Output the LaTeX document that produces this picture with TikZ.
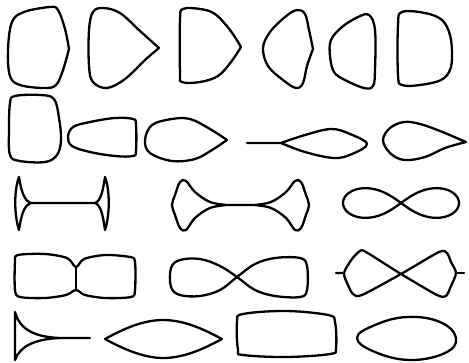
\documentclass[tikz,border=0pt]{standalone}
\begin{document}
\begin{tikzpicture}[x=1pt,y=-1pt,line width=2.3pt,line join=round,line cap=round,
    loop/.style={smooth,tension=0.6}]
    \useasboundingbox (0,0) rectangle (469,362);
    % first row
    \draw plot[loop] coordinates {(69,49) (65,29) (58,10) (50,7) (24,12) (12,22) (8,50) (10,76) (20,85) (44,88) (56,85) (63,70) (69,49)};
    \draw plot[loop] coordinates {(159,48) (140,31) (120,13) (103,8) (93,12) (89,30) (89,66) (93,82) (107,88) (125,79) (145,60) (159,48)};
    \draw plot[loop] coordinates {(241,47) (230,30) (215,14) (200,9) (183,9) (180,20) (180,72) (182,82) (200,82) (218,76) (231,62) (241,47)};
    \draw plot[loop] coordinates {(313,49) (309,30) (305,14) (297,10) (285,17) (270,32) (263,48) (268,66) (283,80) (296,88) (303,83) (307,66) (313,49)};
    \draw plot[smooth cycle,tension=0.6] coordinates {(369,15) (375,30) (375,70) (373,86) (364,88) (345,80) (334,72) (330,56) (331,40) (342,27) (358,17)};
    \draw plot[smooth cycle,tension=0.6] coordinates {(402,12) (425,13) (442,20) (450,35) (452,55) (450,70) (441,80) (420,85) (402,85) (398,75) (398,25)};
    % second row
    \draw plot[smooth cycle,tension=0.6] coordinates {(15,96) (40,95) (54,99) (59,118) (61,140) (57,155) (45,162) (20,161) (10,155) (9,130) (10,103)};
    \draw plot[smooth cycle,tension=0.6] coordinates {(68,137) (73,127) (90,122) (115,118) (133,119) (136,125) (136,150) (133,156) (115,156) (90,152) (72,146)};
    \draw plot[loop] coordinates {(227,140) (210,129) (190,119) (172,119) (152,125) (145,140) (150,153) (172,161) (195,159) (212,150) (227,140)};
    \draw (247,143) -- (281,143) plot[loop] coordinates {(281,143) (305,135) (331,129) (350,134) (367,144) (352,154) (334,158) (305,152) (281,143)};
    \draw plot[loop] coordinates {(466,142) (440,131) (420,124) (404,122) (390,128) (383,140) (390,153) (404,160) (425,157) (445,148) (466,142)};
    % third row
    \draw (31,203) .. controls (24,201) and (21,190) .. (19,177) .. controls (14,190) and (14,215) .. (19,230)
        .. controls (21,216) and (24,205) .. (31,203) -- (95,203) .. controls (101,201) and (103,190) .. (105,177)
        .. controls (110,190) and (110,215) .. (105,230) .. controls (103,216) and (101,205) .. (95,203);
    \draw plot[loop] coordinates {(227,205) (210,202) (195,192) (186,181) (180,182) (175,195) (172,205) (175,215) (180,228) (186,230) (195,218) (210,208) (227,205)}
        -- (254,205)
        plot[loop] coordinates {(254,205) (271,202) (286,192) (295,181) (301,182) (306,195) (309,205) (306,215) (301,228) (295,230) (286,218) (271,208) (254,205)};
    \draw plot[domain=0:360,samples=120,smooth] ({401+58*cos(\x)/(1+sin(\x)^2)},{203+42*sin(\x)*cos(\x)/(1+sin(\x)^2)});
    % fourth row
    \draw plot[smooth cycle,tension=0.5] coordinates {(76,267) (67,258) (45,254) (18,255) (15,262) (15,290) (20,297) (45,298) (66,295) (76,290) (85,295) (105,298) (131,297) (135,290) (135,262) (130,257) (105,255) (84,259)};
    \draw (76,267) -- (76,290);
    \draw plot[smooth cycle,tension=0.6] coordinates {(237,277) (220,266) (200,259) (180,260) (171,268) (171,287) (180,295) (200,296) (220,290) (237,277) (255,264) (275,258) (300,258) (307,266) (307,290) (300,297) (275,296) (255,290)};
    \draw (336,273) -- (344,273) plot[smooth cycle,tension=0.45] coordinates {(344,273) (352,259) (360,251) (366,252) (401,274) (437,295) (446,296) (451,286) (456,273) (451,262) (447,253) (439,252) (401,274) (362,295) (353,294) (348,285)};
    \draw (456,273) -- (464,273);
    % fifth row
    \draw (60,338) .. controls (35,337) and (20,330) .. (15,312) -- (15,360) .. controls (20,346) and (35,339) .. (60,338) -- (90,338);
    \draw (105,339) .. controls (130,325) and (148,320) .. (163,320) .. controls (185,320) and (205,330) .. (222,339)
        .. controls (205,348) and (185,358) .. (163,358) .. controls (145,358) and (125,350) .. (105,339) -- cycle;
    \draw plot[smooth cycle,tension=0.6] coordinates {(243,314) (286,311) (328,315) (335,322) (336,348) (330,354) (286,357) (243,355) (238,350) (237,322)};
    \draw plot[smooth cycle,tension=0.7] coordinates {(357,338) (375,325) (407,317) (440,322) (456,338) (445,353) (410,360) (375,352)};
\end{tikzpicture}
\end{document}
